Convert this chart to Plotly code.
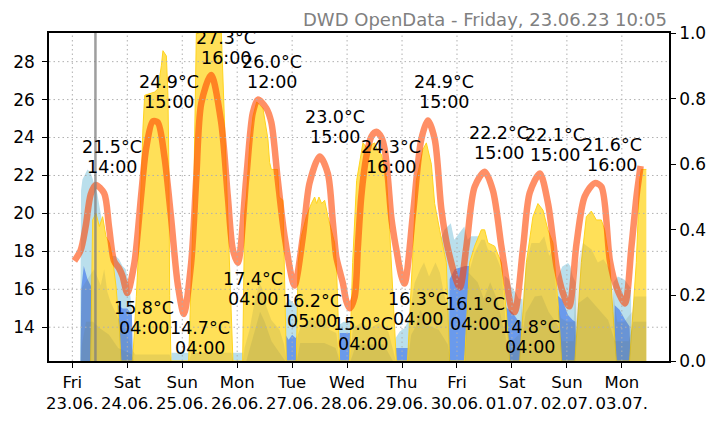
import plotly.graph_objects as go

# ---------------- data (hours since Fri 23.06. 00:00) ----------------
temp_h = [0.9, 3.6, 5.8, 8.0, 10.2, 13.9, 16.0, 18.2, 20.4, 21.9, 24.0, 27.1, 30.0, 32.2,
          35.1, 37.3, 40.2, 43.1, 46.0, 48.7, 51.9, 54.1, 56.3, 60.6, 65.0, 67.9, 70.1,
          72.3, 75.9, 78.8, 81.0, 84.7, 86.9, 89.7, 92.7, 97.0, 100.7, 103.6, 108.0, 111.6,
          113.8, 115.3, 116.7, 118.2, 119.6, 121.1, 123.3, 124.7, 126.2, 128.4, 130.6,
          132.8, 135.0, 136.4, 137.8, 139.3, 140.5, 141.5, 143.7, 145.1, 148.8, 152.4,
          155.3, 158.3, 161.2, 164.1, 169.2, 172.1, 175.7, 180.1, 183.7, 187.4, 189.6,
          191.8, 193.2, 196.9, 199.8, 204.2, 207.8, 211.5, 214.3, 217.0, 220.2, 223.8,
          228.2, 231.1, 234.8, 237.7, 241.3, 244.2, 246.4, 248.2]
temp_c = [17.5, 18.05, 19.3, 21.0, 21.5, 21.06, 19.3, 17.5, 17.1, 16.7, 15.8, 17.4, 20.9, 23.4,
          24.85, 24.8, 23.0, 19.8, 16.3, 14.7, 17.4, 21.8, 25.8, 27.3, 24.8, 20.9, 18.1,
          17.4, 21.8, 25.3, 26.0, 25.55, 24.8, 21.8, 18.8, 16.2, 18.8, 21.6, 23.0, 22.1,
          19.5, 17.7, 17.0, 16.3, 15.4, 15.0, 15.6, 18.2, 20.9, 23.0, 24.05,
          24.3, 24.0, 23.4, 21.9, 19.8, 18.8, 18.1, 16.7, 16.3, 20.0, 23.9,
          24.9, 23.9, 20.2, 18.1, 16.1, 18.25, 21.4, 22.2, 21.2, 18.25, 16.5,
          15.0, 14.8, 18.25, 21.1, 22.1, 20.5, 17.2, 15.8, 15.1, 18.4, 20.9,
          21.6, 21.4, 17.5, 16.1, 15.25, 18.25, 20.9, 22.5]

# light blue area (fraction 0..1)
sky_total_h = [3.4, 3.8, 4.4, 6.6, 8.0, 9.5, 10.9, 12.4, 13.9, 15.3, 16.7, 18.9, 20.4, 21.9, 23.3,
               24.8, 26.0, 26.4, 43.0, 43.3, 51.0, 51.3, 69.0, 69.3, 75.0, 75.3,
               92.5, 93.0, 94.5, 96.0, 97.5, 99.0, 99.5, 116.0, 116.5, 118.5, 120.5, 122.5, 123.0,
               140.8, 141.2, 143.0, 145.0, 147.0, 147.5,
               160.0, 160.3, 162.5, 163.9, 165.3, 166.8, 169.0, 171.2, 172.7, 174.0, 177.5, 178.0,
               188.5, 188.8, 190.5, 192.0, 193.5, 195.0, 196.5, 197.0,
               211.5, 211.8, 214.0, 216.5, 217.5, 218.6, 219.8, 220.2,
               236.0, 236.3, 238.3, 241.2, 243.4, 244.0, 244.3]
sky_total_v = [0.0, 0.52, 0.553, 0.584, 0.575, 0.544, 0.51, 0.45, 0.38, 0.34, 0.32, 0.32, 0.31, 0.29, 0.28,
               0.23, 0.156, 0.0, 0.0, 0.025, 0.025, 0.0, 0.0, 0.025, 0.025, 0.0,
               0.0, 0.17, 0.19, 0.18, 0.17, 0.16, 0.0, 0.0, 0.11, 0.12, 0.12, 0.11, 0.0,
               0.0, 0.07, 0.09, 0.10, 0.125, 0.0,
               0.0, 0.36, 0.40, 0.41, 0.42, 0.37, 0.39, 0.41, 0.37, 0.38, 0.38, 0.0,
               0.0, 0.26, 0.25, 0.22, 0.21, 0.19, 0.19, 0.0,
               0.0, 0.252, 0.288, 0.299, 0.29, 0.258, 0.24, 0.0,
               0.0, 0.24, 0.258, 0.248, 0.227, 0.22, 0.0]

# cornflower blue area
sky_night_h = [3.6, 3.9, 5.0, 6.6, 8.0, 9.0, 20.0, 22.0, 24.0, 26.0, 26.4,
               92.8, 93.1, 94.5, 96.0, 97.5, 98.5, 98.8,
               116.5, 116.8, 122.5, 122.8, 141.0, 141.3, 147.0, 147.3,
               164.5, 164.8, 167.0, 169.0, 171.5, 173.8, 174.1,
               188.6, 188.9, 192.0, 194.5, 196.0, 196.5,
               211.6, 211.9, 214.0, 216.5, 218.5, 219.7, 220.0,
               236.6, 236.9, 239.0, 241.5, 243.4, 243.8]
sky_night_v = [0.0, 0.22, 0.29, 0.25, 0.23, 0.2, 0.17, 0.16, 0.16, 0.14, 0.0,
               0.0, 0.08, 0.065, 0.08, 0.07, 0.08, 0.0,
               0.0, 0.085, 0.085, 0.0, 0.0, 0.04, 0.04, 0.0,
               0.0, 0.25, 0.28, 0.285, 0.29, 0.29, 0.0,
               0.0, 0.166, 0.15, 0.125, 0.12, 0.0,
               0.0, 0.20, 0.187, 0.14, 0.125, 0.12, 0.0,
               0.0, 0.17, 0.156, 0.125, 0.105, 0.0]

# yellow area (sunshine fraction)
sun_h = [8.0, 8.87, 10.31, 11.79, 13.23, 14.68, 16.16, 17.6, 19.04, 20.53, 21.23,
         26.34, 27.95, 29.39, 30.84, 31.58, 35.95, 37.39, 38.87, 39.57, 41.06, 41.75, 42.15, 42.5, 43.07,
         50.8, 53.0, 54.16, 65.08, 66.52, 67.96, 69.44, 70.14,
         74.39, 75.26, 76.0, 77.44, 78.88, 80.5, 83.25, 84.73, 85.43, 86.17, 86.91, 89.67, 90.32, 91.98, 93.47,
         97.83, 98.62, 100.02, 102.2, 104.39, 105.83, 106.7, 107.7, 108.88, 110.19, 111.64, 113.12, 114.56, 115.3, 116.44, 116.75,
         121.11, 122.42, 124.17, 126.92, 129.1, 130.72, 132.03, 133.34, 134.96, 137.14, 138.58, 140.03, 141.51,
         146.41, 147.72, 150.24, 153.13, 154.61, 156.8, 158.24, 160.42, 161.86, 163.35, 164.79,
         171.34, 173.52, 175.71, 178.64, 180.08, 181.52, 184.45, 187.37, 189.56, 191.0,
         195.37, 198.29, 201.17, 203.35, 205.54, 207.72, 209.91, 212.09, 213.71,
         219.5, 222.31, 224.49, 226.68, 228.86, 231.05, 232.49, 234.67, 236.11, 237.6,
         243.39, 246.32, 247.76, 248.5, 250.7]
sun_v = [0.0, 0.43, 0.45, 0.41, 0.44, 0.38, 0.36, 0.31, 0.23, 0.10, 0.0,
         0.0, 0.197, 0.40, 0.71, 0.81, 0.82, 0.83, 0.90, 0.946, 0.93, 0.81, 0.6, 0.2, 0.0,
         0.0, 0.5, 1.0, 1.0, 0.71, 0.40, 0.095, 0.0,
         0.0, 0.45, 0.50, 0.655, 0.746, 0.79, 0.77, 0.70, 0.676, 0.605, 0.584, 0.584, 0.50, 0.49, 0.0,
         0.0, 0.30, 0.38, 0.44, 0.48, 0.50, 0.48, 0.50, 0.48, 0.49, 0.44, 0.40, 0.36, 0.30, 0.095, 0.0,
         0.0, 0.30, 0.55, 0.665, 0.645, 0.66, 0.665, 0.64, 0.63, 0.564, 0.40, 0.20, 0.0,
         0.0, 0.20, 0.55, 0.645, 0.665, 0.60, 0.48, 0.40, 0.35, 0.30, 0.0,
         0.0, 0.30, 0.35, 0.40, 0.40, 0.36, 0.35, 0.30, 0.15, 0.0,
         0.0, 0.30, 0.44, 0.48, 0.46, 0.40, 0.36, 0.18, 0.0,
         0.0, 0.30, 0.44, 0.457, 0.43, 0.43, 0.40, 0.30, 0.15, 0.0,
         0.0, 0.30, 0.55, 0.584, 0.584]

# grey overlay areas (two layers)
cloud_a_h = [3.6, 4.0, 6.6, 9.5, 12.4, 13.9, 15.3, 16.7, 19.7, 22.6, 25.0, 26.5, 27.5, 42.5, 43.2,
             51.0, 52.0, 69.5, 70.2, 74.5, 75.2, 77.4, 79.5, 81.7, 83.0, 84.7, 86.9, 90.5, 92.5, 93.5,
             97.5, 98.5, 100.0, 102.2, 104.7, 107.0, 109.4, 112.2, 115.3, 116.7,
             121.2, 122.5, 126.0, 130.0, 134.0, 138.0, 141.3,
             146.4, 147.5, 149.5, 152.0, 153.6, 155.8, 158.6, 160.5, 162.5, 164.6, 165.0,
             171.4, 173.6, 175.7, 178.6, 180.1, 181.5, 184.5, 187.4, 189.5, 192.0,
             195.0, 198.3, 200.5, 204.0, 206.1, 208.3, 209.7, 211.9, 213.5, 216.0,
             219.0, 220.1, 223.0, 226.8, 229.5, 232.0, 234.8, 236.5, 238.0,
             241.0, 244.5, 245.5, 250.7]
cloud_a_v = [0.0, 0.22, 0.25, 0.28, 0.23, 0.28, 0.21, 0.18, 0.135, 0.10, 0.06, 0.03, 0.02, 0.02, 0.0,
             0.0, 0.025, 0.025, 0.0, 0.0, 0.04, 0.095, 0.177, 0.238, 0.22, 0.166, 0.125, 0.095, 0.05, 0.0,
             0.0, 0.08, 0.11, 0.115, 0.135, 0.115, 0.145, 0.095, 0.085, 0.0,
             0.0, 0.10, 0.116, 0.10, 0.116, 0.09, 0.0,
             0.0, 0.15, 0.238, 0.28, 0.30, 0.258, 0.30, 0.27, 0.2, 0.15, 0.0,
             0.0, 0.28, 0.33, 0.37, 0.37, 0.34, 0.33, 0.28, 0.10, 0.06,
             0.08, 0.30, 0.36, 0.36, 0.38, 0.32, 0.34, 0.17, 0.13, 0.12,
             0.12, 0.28, 0.36, 0.34, 0.30, 0.31, 0.28, 0.2, 0.12,
             0.12, 0.15, 0.197, 0.197]
cloud_b_h = [3.8, 4.2, 6.0, 9.0, 12.0, 16.0, 20.0, 26.0, 26.8,
             76.0, 78.0, 80.0, 82.0, 84.0, 87.0, 90.0, 93.0,
             98.0, 99.5, 110.0, 115.0, 116.7, 121.5, 124.0, 136.0, 140.0,
             146.5, 148.0, 150.0, 152.0, 155.0, 160.0, 164.0, 165.0,
             171.5, 173.0, 177.0, 179.7, 182.5, 185.4, 188.3, 190.0, 192.0,
             196.0, 198.0, 202.0, 205.0, 208.0, 212.0, 214.0,
             219.0, 221.0, 225.0, 229.0, 234.0, 237.0, 243.0, 245.0, 250.7]
cloud_b_v = [0.0, 0.05, 0.12, 0.12, 0.10, 0.08, 0.04, 0.02, 0.0,
             0.0, 0.05, 0.10, 0.15, 0.12, 0.06, 0.03, 0.0,
             0.0, 0.055, 0.055, 0.04, 0.0, 0.0, 0.05, 0.05, 0.0,
             0.0, 0.08, 0.105, 0.156, 0.11, 0.095, 0.05, 0.0,
             0.0, 0.27, 0.24, 0.19, 0.24, 0.19, 0.105, 0.05, 0.03,
             0.05, 0.147, 0.197, 0.2, 0.15, 0.11, 0.06,
             0.06, 0.176, 0.197, 0.166, 0.125, 0.06, 0.06, 0.12, 0.12]

# ticks
day_ticks_h = [0, 24, 48, 72, 96, 120, 144, 168, 192, 216, 240]
day_names = ["Fri", "Sat", "Sun", "Mon", "Tue", "Wed", "Thu", "Fri", "Sat", "Sun", "Mon"]
day_dates = ["23.06.", "24.06.", "25.06.", "26.06.", "27.06.", "28.06.", "29.06.",
             "30.06.", "01.07.", "02.07.", "03.07."]
temp_ticks = [14, 16, 18, 20, 22, 24, 26, 28]
frac_ticks = [0.0, 0.2, 0.4, 0.6, 0.8, 1.0]

# daily extremes
max_temps = [21.5, 24.9, 27.3, 26.0, 23.0, 24.3, 24.9, 22.2, 22.1, 21.6]
max_times = ["14:00", "15:00", "16:00", "12:00", "15:00", "16:00", "15:00", "15:00", "15:00", "16:00"]
min_temps = [15.8, 14.7, 17.4, 16.2, 15.0, 16.3, 16.1, 14.8]
min_times = ["04:00", "04:00", "04:00", "05:00", "04:00", "04:00", "04:00", "04:00"]

now_h = 10 + 5 / 60
title_text = "DWD OpenData - Friday, 23.06.23 10:05"

# ---------------- layout helpers (label placement) ----------------
max_label_pos = [(17.47, 22.95), (42.06, 26.39), (66.95, 28.74), (87.05, 27.45), (114.56, 24.54),
                 (139.33, 22.95), (162.17, 26.39), (186.19, 23.73), (210.65, 23.59), (235.55, 23.09)]
min_label_pos = [(31.14, 14.50), (55.6, 13.42), (78.75, 16.01), (104.52, 14.87), (126.79, 13.65),
                 (150.81, 14.94), (175.7, 14.68), (199.72, 13.46)]

FONT = "DejaVu Sans"
fig = go.Figure()

def area(x, y, color, line=None):
    fig.add_trace(go.Scatter(
        x=x, y=y, mode="lines", fill="tozeroy", fillcolor=color,
        line=line if line else dict(width=0), yaxis="y", hoverinfo="skip"))

area(sky_total_h, sky_total_v, "rgb(186,223,236)")
area(sky_night_h, sky_night_v, "rgb(106,154,236)")
area(sun_h, sun_v, "rgb(255,224,88)", dict(width=1, color="rgb(255,212,30)"))
area(cloud_a_h, cloud_a_v, "rgba(100,110,80,0.14)")
area(cloud_b_h, cloud_b_v, "rgba(100,110,80,0.14)")

fig.add_trace(go.Scatter(
    x=temp_h, y=temp_c, mode="lines", yaxis="y2", hoverinfo="skip",
    line=dict(color="rgba(255,69,0,0.6)", width=6.5, shape="spline", smoothing=0.8)))

annotations = []
def label(pos, t, tm):
    x, y = pos
    for txt, dy in ((f"{t:.1f}°C", 10), (tm, -10)):
        annotations.append(dict(x=x, y=y, xref="x", yref="y2", text=txt, showarrow=False,
                                yshift=dy, font=dict(family=FONT, size=17.5, color="black")))

for p, t, tm in zip(max_label_pos, max_temps, max_times):
    label(p, t, tm)
for p, t, tm in zip(min_label_pos, min_temps, min_times):
    label(p, t, tm)

annotations.append(dict(x=1, y=1, xref="paper", yref="paper", xanchor="right", yanchor="bottom",
                        yshift=1, text=title_text, showarrow=False,
                        font=dict(family=FONT, size=18, color="gray")))

shapes = []
grid = dict(color="#b0b0b0", width=1, dash="1.5px,3px")
for h in day_ticks_h:
    shapes.append(dict(type="line", xref="x", yref="paper", x0=h, x1=h, y0=0, y1=1,
                       line=grid, layer="above"))
for t in temp_ticks:
    shapes.append(dict(type="line", xref="paper", yref="y2", x0=0, x1=1, y0=t, y1=t,
                       line=grid, layer="above"))
shapes.append(dict(type="line", xref="x", yref="paper", x0=now_h, x1=now_h, y0=0, y1=1,
                   line=dict(color="rgba(125,125,125,0.75)", width=2.5), layer="above"))

axis_common = dict(ticks="outside", ticklen=5, tickwidth=1.2, tickcolor="black",
                   showline=True, linecolor="black", linewidth=1.5, showgrid=False,
                   zeroline=False)
tick_font = dict(family=FONT, size=17, color="black")

fig.update_layout(
    width=723, height=425, margin=dict(l=49, r=54, t=33, b=64),
    paper_bgcolor="white", plot_bgcolor="white", showlegend=False,
    font=dict(family=FONT, size=17, color="black"),
    xaxis=dict(range=[-10.2, 260.6], tickvals=day_ticks_h,
               ticktext=[f"{n}<br>{d}" for n, d in zip(day_names, day_dates)],
               tickangle=0, tickfont=dict(family=FONT, size=16.5, color="black"),
               mirror=True, **axis_common),
    yaxis=dict(range=[0, 1], side="right", tickvals=frac_ticks,
               ticktext=[f"{v:.1f}" for v in frac_ticks], tickfont=tick_font, **axis_common),
    yaxis2=dict(range=[12.22, 29.51], side="left", overlaying="y", anchor="x",
                tickvals=temp_ticks, ticktext=[str(t) for t in temp_ticks],
                ticklabelstandoff=4, tickfont=tick_font, **axis_common),
    annotations=annotations, shapes=shapes,
)

fig.write_html("out.html")
